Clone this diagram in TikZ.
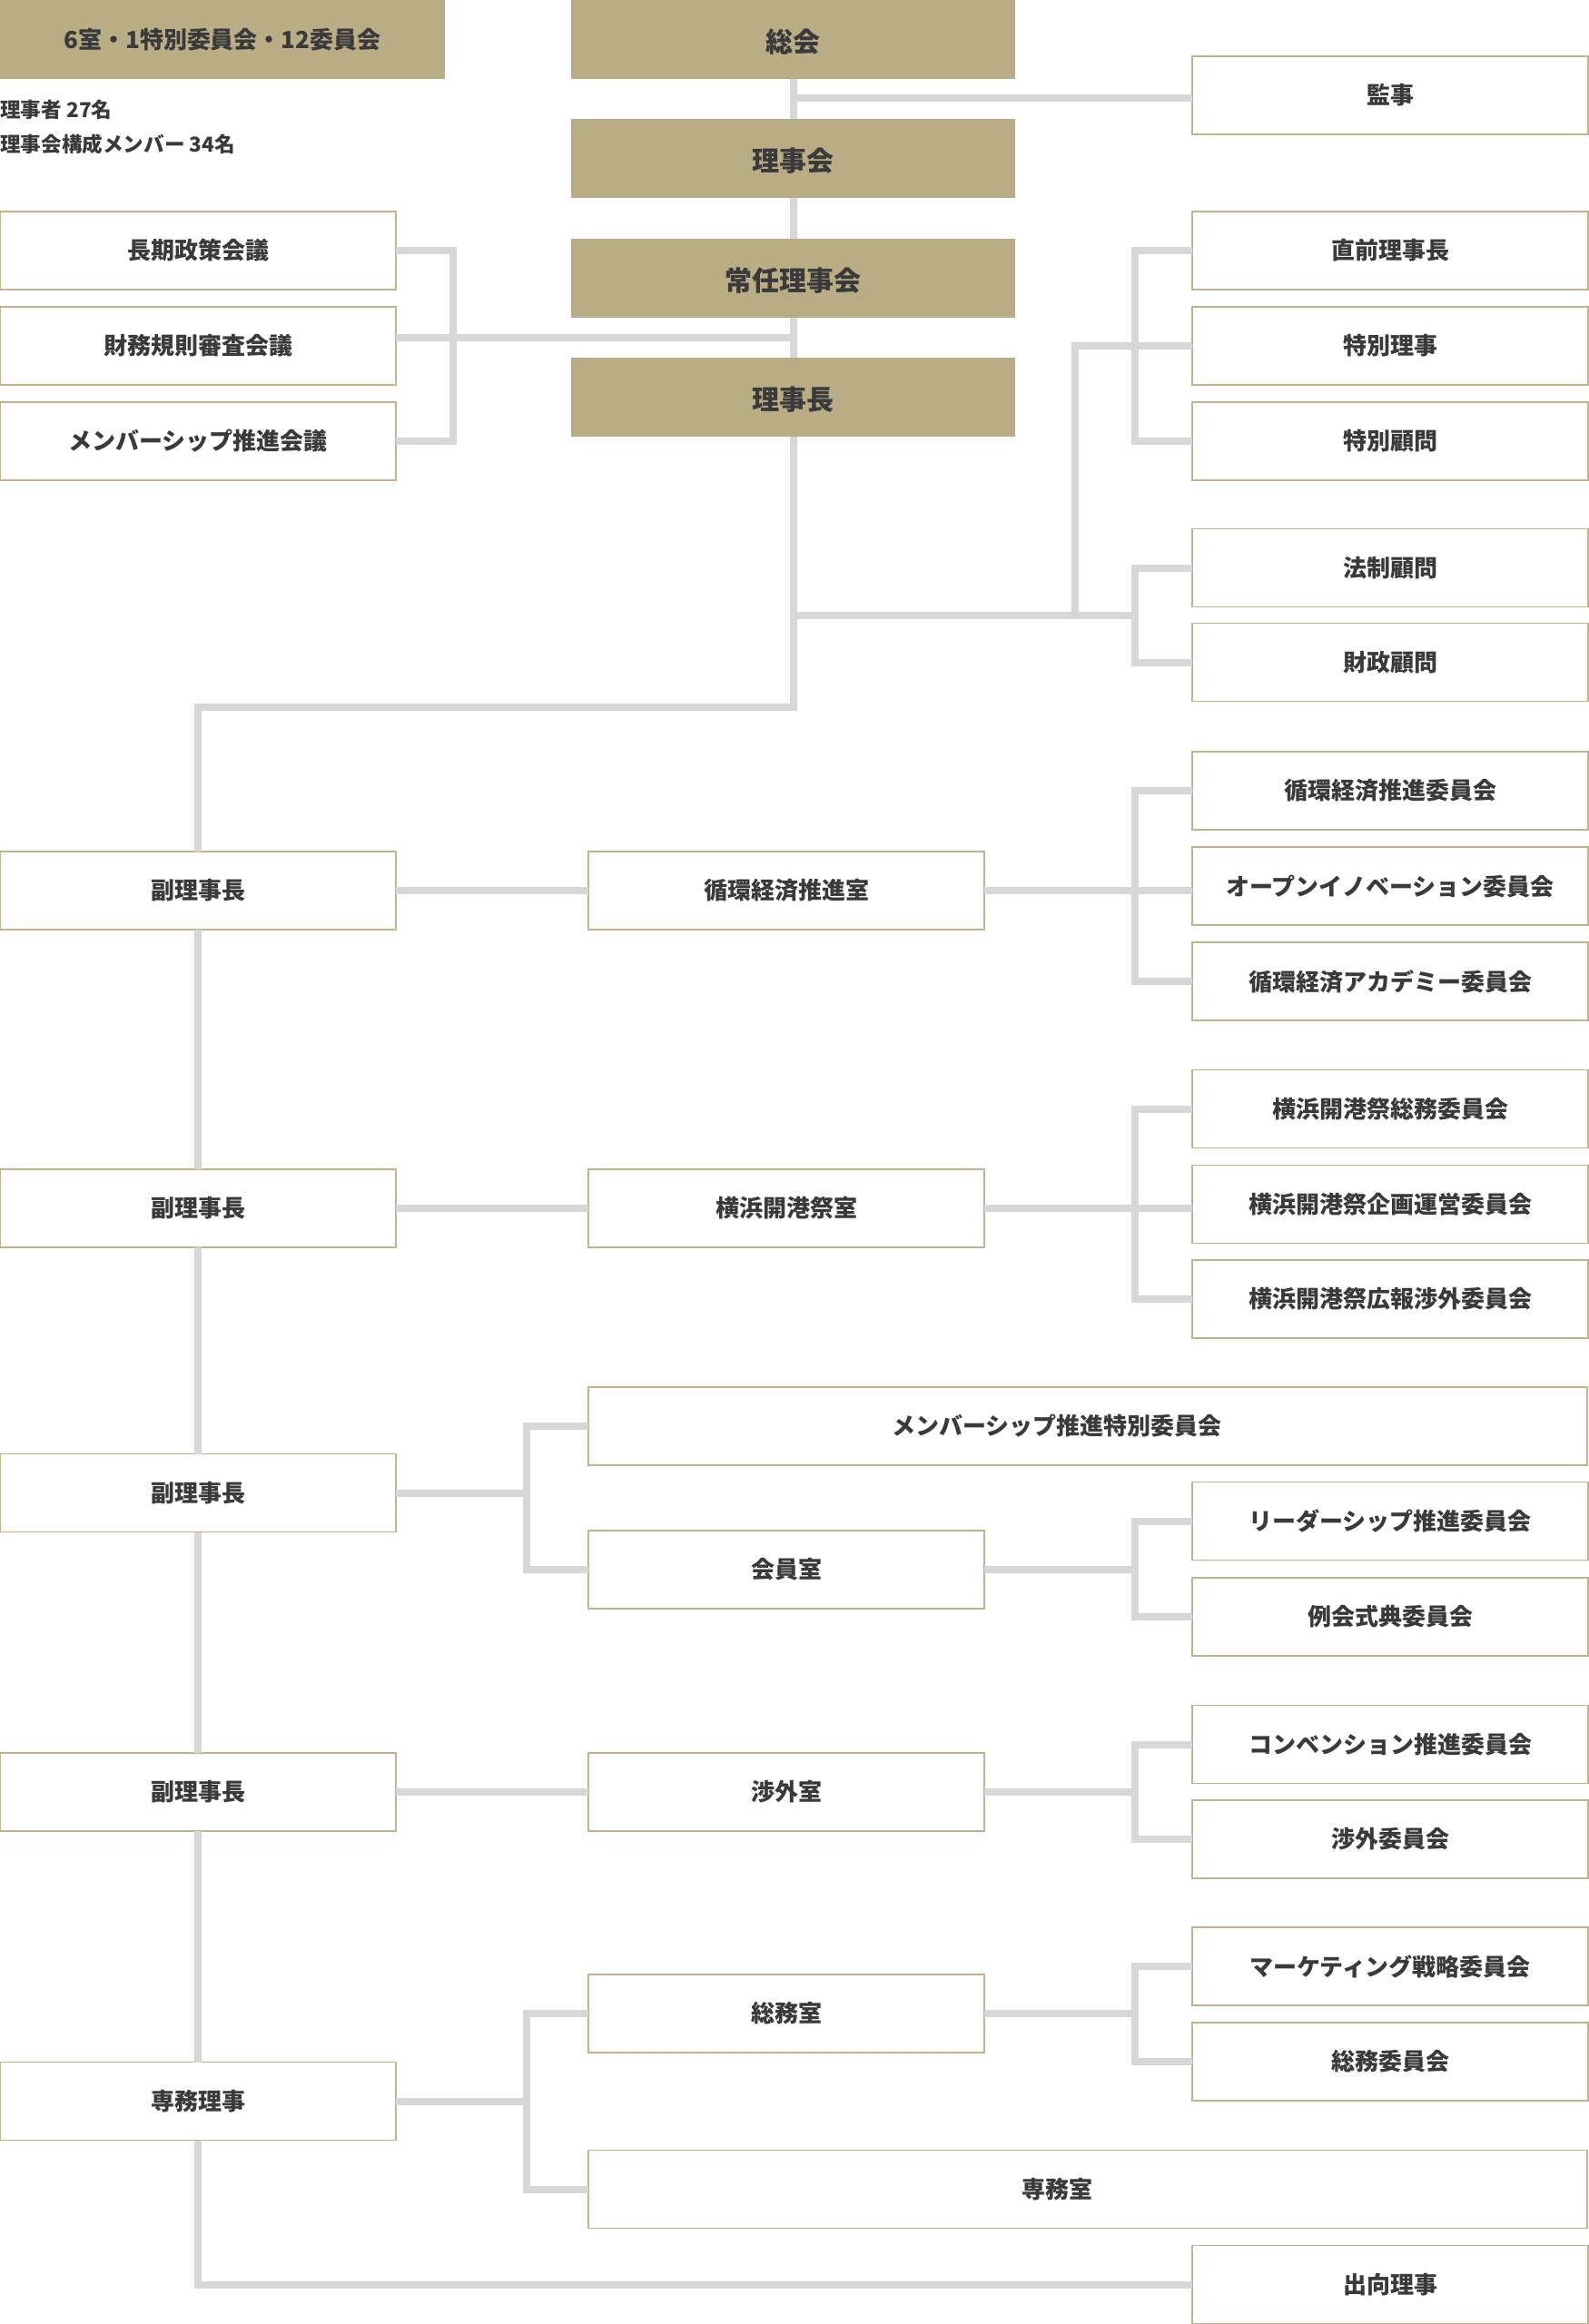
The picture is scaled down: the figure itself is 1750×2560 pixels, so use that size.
\documentclass[tikz,border=0pt]{standalone}
\usepackage{fontspec}
\setmainfont{Noto Sans CJK JP}
\usetikzlibrary{calc}
\definecolor{goldc}{HTML}{B8AD85}
\definecolor{bordc}{HTML}{BFB48C}
\definecolor{linec}{HTML}{D7D7D7}
\definecolor{txtc}{HTML}{3A3A3A}
\tikzset{
  gold/.style={fill=goldc, minimum width=244.5pt, minimum height=43.5pt, inner sep=0pt, outer sep=0pt,
    font=\fontsize{15pt}{18pt}\selectfont\bfseries, text=txtc},
  wbox/.style={draw=bordc, line width=0.8pt, fill=white, minimum width=218pt, minimum height=43pt,
    inner sep=0pt, outer sep=0pt, font=\fontsize{13pt}{16pt}\selectfont\bfseries, text=txtc},
  widebox/.style={wbox, minimum width=550pt},
  conn/.style={draw=linec, line width=4pt},
  note/.style={anchor=west, inner sep=0pt, font=\fontsize{11.3pt}{13pt}\selectfont\bfseries, text=txtc}
}
\newcommand{\gtxt}[1]{\raisebox{-1.5pt}[\height][\depth]{#1}}
\begin{document}
\begin{tikzpicture}[x=0.5pt,y=-0.5pt]
\useasboundingbox (0,0) rectangle (1750,2560);
% top gold boxes
\node[gold, minimum width=245pt, font=\fontsize{13pt}{16pt}\selectfont\bfseries] (summary) at (245,43.5) {6室・1特別委員会・12委員会};
\node[gold] (soukai) at (873.5,43.5) {\gtxt{総会}};
\node[gold] (rijikai) at (873.5,174.5) {\gtxt{理事会}};
\node[gold] (jonin) at (873.5,306.5) {\gtxt{常任理事会}};
\node[gold] (rijicho) at (873.5,437.5) {\gtxt{理事長}};
\node[note] (n1) at (0,121) {理事者 27名};
\node[note] (n2) at (0,159) {理事会構成メンバー 34名};
% left councils
\node[wbox] (choki) at (218,276) {長期政策会議};
\node[wbox] (zaimu) at (218,381) {財務規則審査会議};
\node[wbox] (member) at (218,486) {メンバーシップ推進会議};
% right upper
\node[wbox] (kanji) at (1531,105) {監事};
\node[wbox] (chokuzen) at (1531,276) {直前理事長};
\node[wbox] (tokuri) at (1531,381) {特別理事};
\node[wbox] (tokuko) at (1531,486) {特別顧問};
\node[wbox] (hosei) at (1531,625.5) {法制顧問};
\node[wbox] (zaisei) at (1531,729.5) {財政顧問};
% vice presidents
\node[wbox] (fuku1) at (218,981) {副理事長};
\node[wbox] (fuku2) at (218,1331) {副理事長};
\node[wbox] (fuku3) at (218,1644.5) {副理事長};
\node[wbox] (fuku4) at (218,1974) {副理事長};
\node[wbox] (senmu) at (218,2314.5) {専務理事};
% offices
\node[wbox] (jks) at (866,981) {循環経済推進室};
\node[wbox] (yks) at (866,1331) {横浜開港祭室};
\node[widebox] (msp) at (1198,1571) {\hspace*{-34pt}メンバーシップ推進特別委員会};
\node[wbox] (kaiin) at (866,1729) {会員室};
\node[wbox] (shogai) at (866,1974) {渉外室};
\node[wbox] (somu) at (866,2218) {総務室};
\node[widebox] (senmushitsu) at (1198,2411.5) {\hspace*{-34pt}専務室};
% committees
\node[wbox] (jk1) at (1531,871) {循環経済推進委員会};
\node[wbox] (jk2) at (1531,976) {オープンイノベーション委員会};
\node[wbox] (jk3) at (1531,1081) {循環経済アカデミー委員会};
\node[wbox] (yk1) at (1531,1221.5) {横浜開港祭総務委員会};
\node[wbox] (yk2) at (1531,1326.5) {横浜開港祭企画運営委員会};
\node[wbox] (yk3) at (1531,1431) {横浜開港祭広報渉外委員会};
\node[wbox] (leader) at (1531,1675.5) {リーダーシップ推進委員会};
\node[wbox] (reikai) at (1531,1781) {例会式典委員会};
\node[wbox] (conv) at (1531,1921.5) {コンベンション推進委員会};
\node[wbox] (shiin) at (1531,2026) {渉外委員会};
\node[wbox] (mkt) at (1531,2166) {マーケティング戦略委員会};
\node[wbox] (siin) at (1531,2271) {総務委員会};
\node[wbox] (shukko) at (1531,2516.5) {出向理事};
% bracket columns
\coordinate (bL) at (499,0);
\coordinate (bM) at (580,0);
\coordinate (bR) at (1250,0);
% main column
\draw[conn] (soukai.south) -- (rijikai.north);
\draw[conn] (rijikai.south) -- (jonin.north);
\draw[conn] (jonin.south) -- (rijicho.north);
\coordinate (j1) at (873.5,779);
\draw[conn] (rijicho.south) -- (j1) -| (fuku1.north);
\coordinate (km) at ($(kanji.west)+(0,3)$);
\draw[conn] (km -| soukai.south) -- (km);
% left councils
\coordinate (zm) at ($(zaimu.east)+(0,-9)$);
\draw[conn] (zm) -- (zm -| rijicho.north);
\draw[conn] (choki.east) -| (bL |- member.east) -- (member.east);
% right upper
\draw[conn] (chokuzen.west) -| (bR |- tokuko.west) -- (tokuko.west);
\coordinate (hv) at (1184,677.5);
\coordinate (hj) at (1250,677.5);
\draw[conn] (hv) |- (tokuri.west);
\draw[conn] (rijicho.south |- hj) -- (hj);
\draw[conn] (hosei.west) -| (bR |- zaisei.west) -- (zaisei.west);
% vice-president column
\draw[conn] (fuku1.south) -- (fuku2.north);
\draw[conn] (fuku2.south) -- (fuku3.north);
\draw[conn] (fuku3.south) -- (fuku4.north);
\draw[conn] (fuku4.south) -- (senmu.north);
\draw[conn] (senmu.south) |- (shukko.west);
% junkan
\draw[conn] (fuku1.east) -- (jks.west);
\draw[conn] (jks.east) -- (jk2.west |- jks.east);
\draw[conn] (jk1.west) -| (bR |- jk3.west) -- (jk3.west);
% yokohama
\draw[conn] (fuku2.east) -- (yks.west);
\draw[conn] (yks.east) -- (yk2.west |- yks.east);
\draw[conn] (yk1.west) -| (bR |- yk3.west) -- (yk3.west);
% kaiin
\draw[conn] (fuku3.east) -- (fuku3.east -| bM);
\draw[conn] (msp.west) -| (bM |- kaiin.west) -- (kaiin.west);
\draw[conn] (kaiin.east) -- (kaiin.east -| bR);
\draw[conn] (leader.west) -| (bR |- reikai.west) -- (reikai.west);
% shogai
\draw[conn] (fuku4.east) -- (shogai.west);
\draw[conn] (shogai.east) -- (shogai.east -| bR);
\draw[conn] (conv.west) -| (bR |- shiin.west) -- (shiin.west);
% somu
\draw[conn] (senmu.east) -- (senmu.east -| bM);
\draw[conn] (somu.west) -| (bM |- senmushitsu.west) -- (senmushitsu.west);
\draw[conn] (somu.east) -- (somu.east -| bR);
\draw[conn] (mkt.west) -| (bR |- siin.west) -- (siin.west);
\end{tikzpicture}
\end{document}
